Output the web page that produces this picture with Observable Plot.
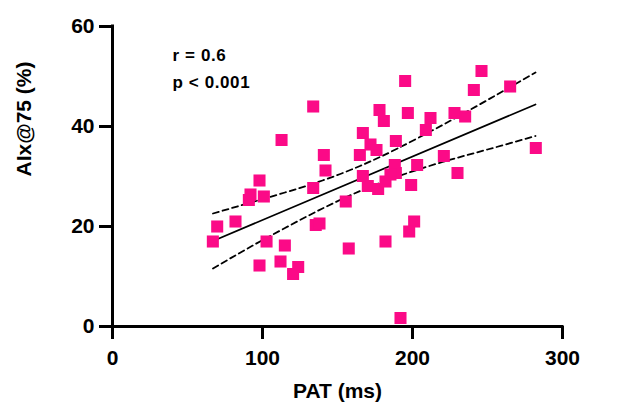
<!DOCTYPE html>
<html>
<head>
<meta charset="utf-8">
<script src="https://cdn.jsdelivr.net/npm/d3@7"></script>
<script src="https://cdn.jsdelivr.net/npm/@observablehq/plot@0.6"></script>
<style>
  html, body { margin: 0; padding: 0; background: #fff; }
  #chart svg { display: block; }
</style>
</head>
<body>
<div id="chart"></div>
<script>
// PAT (ms) vs AIx@75 (%)
const pat = [133.8, 112.7, 140.9, 142, 98, 92, 90.9, 100.9, 133.8, 155.5,
  69.8, 82, 66.9, 102.7, 114.9, 135.5, 138, 98, 112, 123.8,
  120.4, 157.5, 246, 195.1, 240.9, 265.1, 178, 180.9, 196.9, 212,
  208.9, 228, 235.1, 166.9, 172, 176, 188.9, 164.9, 220.9, 282.2,
  188.2, 203.1, 166.9, 188.9, 170.2, 177.1, 182, 185.3, 230, 199.1,
  201.1, 197.8, 182, 192];
const aix = [44.0, 37.3, 34.3, 31.2, 29.2, 26.4, 25.3, 26, 27.7, 25,
  20, 21, 17, 17, 16.2, 20.3, 20.6, 12.2, 13, 11.9,
  10.5, 15.6, 51.1, 49.1, 47.3, 48, 43.3, 41.1, 42.7, 41.7,
  39.3, 42.7, 42, 38.7, 36.4, 35.3, 37.1, 34.3, 34.1, 35.7,
  32.3, 32.3, 30.1, 30.7, 28.1, 27.5, 29, 30.4, 30.7, 28.3,
  21, 19, 17, 1.7];

// regression line and 95% confidence band
const fitX = [67, 282];
const fitY = [17.1, 44.4];
const bandX = [67, 90, 115, 140, 165, 190, 220, 250, 282];
const bandUpper = [22.6, 24.6, 26.8, 29.2, 32.1, 35.6, 40.3, 45.3, 50.8];
const bandLower = [11.6, 15.6, 19.7, 23.6, 27.1, 30.0, 32.9, 35.4, 38.1];

const xTicks = [0, 100, 200, 300];
const yTicks = [0, 20, 40, 60];
const xTitle = "PAT (ms)";
const yTitle = "AIx@75 (%)";
const notes = ["r = 0.6", "p < 0.001"];

const points = pat.map((x, i) => ({x, y: aix[i]}));
const fit = fitX.map((x, i) => ({x, y: fitY[i]}));
const upper = bandX.map((x, i) => ({x, y: bandUpper[i]}));
const lower = bandX.map((x, i) => ({x, y: bandLower[i]}));

const pink = "#fb0a87";
const font = "'Liberation Sans', Arial, Helvetica, sans-serif";

const chart = Plot.plot({
  width: 619,
  height: 415,
  marginLeft: 112,
  marginRight: 57,
  marginTop: 26,
  marginBottom: 89,
  style: {fontFamily: font, fontWeight: "bold", background: "#fff", color: "#000"},
  x: {domain: [0, 300], axis: null},
  y: {domain: [0, 60], axis: null},
  marks: [
    Plot.line(upper, {x: "x", y: "y", stroke: "#000", strokeWidth: 1.8, strokeDasharray: "6,4", curve: "natural"}),
    Plot.line(lower, {x: "x", y: "y", stroke: "#000", strokeWidth: 1.8, strokeDasharray: "6,4", curve: "natural"}),
    Plot.line(fit, {x: "x", y: "y", stroke: "#000", strokeWidth: 1.8}),
    Plot.dot(points, {x: "x", y: "y", symbol: "square", r: 6.8, fill: pink, stroke: "none"}),
    Plot.axisX({ticks: xTicks, tickSize: 13, tickPadding: 11, strokeWidth: 3, fontSize: 21, fontWeight: "bold", label: null}),
    Plot.axisY({ticks: yTicks, tickSize: 13, tickPadding: 5, strokeWidth: 3, fontSize: 21, fontWeight: "bold", label: null}),
    Plot.ruleY([0], {stroke: "#000", strokeWidth: 3, strokeLinecap: "square"}),
    Plot.ruleX([0], {stroke: "#000", strokeWidth: 3, strokeLinecap: "square"}),
    Plot.text([xTitle], {frameAnchor: "bottom", dy: 64.5, lineAnchor: "middle", fontSize: 21, fontWeight: "bold", fill: "#000"}),
    Plot.text([yTitle], {frameAnchor: "left", dx: -88, rotate: -90, lineAnchor: "middle", fontSize: 21, fontWeight: "bold", fill: "#000"}),
    Plot.text([notes[0]], {frameAnchor: "top-left", dx: 60, dy: 29.5, textAnchor: "start", lineAnchor: "middle", fontSize: 17, fontWeight: "bold", fill: "#000"}),
    Plot.text([notes[1]], {frameAnchor: "top-left", dx: 60, dy: 56, textAnchor: "start", lineAnchor: "middle", fontSize: 17, fontWeight: "bold", fill: "#000"})
  ]
});
d3.select(chart).selectAll("text").filter(function(){ return notes.includes(this.textContent); }).style("letter-spacing", "0.6px");
document.getElementById("chart").appendChild(chart);
</script>
</body>
</html>
